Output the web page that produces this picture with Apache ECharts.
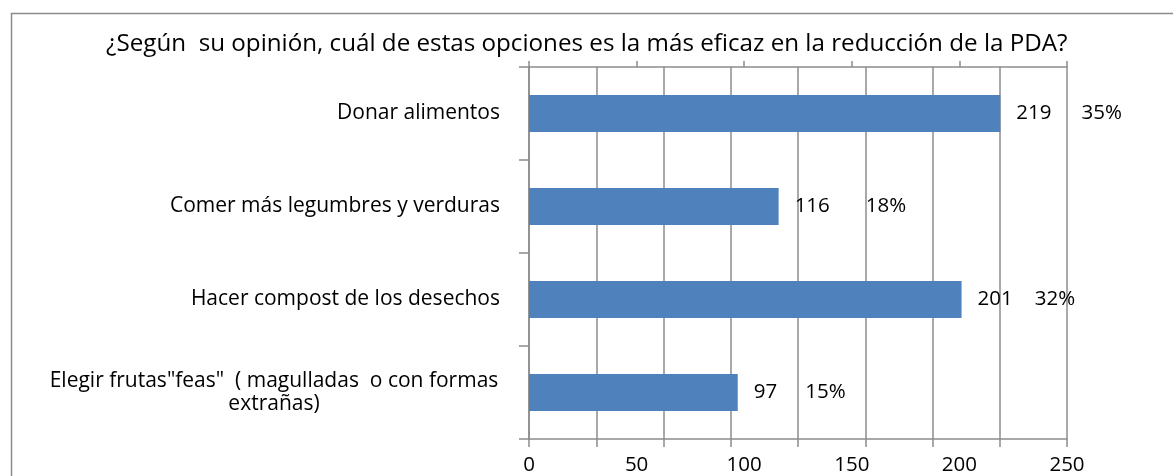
<!DOCTYPE html>
<html>
<head>
<meta charset="utf-8">
<script src="https://cdn.jsdelivr.net/npm/echarts@6/dist/echarts.min.js"></script>
<style>
  html, body { margin: 0; padding: 0; background: #fff; }
  #chart { width: 1173px; height: 476px; }
</style>
</head>
<body>
<div id="chart"></div>
<script>
// --- data ---
const categories = [
    'Donar alimentos',
    'Comer más legumbres y verduras',
    'Hacer compost de los desechos',
    'Elegir frutas"feas"  ( magulladas  o con formas\nextrañas)'
];
const counts = [219, 116, 201, 97];
const percents = ['35%', '18%', '32%', '15%'];
const axisTicks = [0, 50, 100, 150, 200, 250];

// gap between the count and the percent label (the source placed these by hand)
const pctGap = [30, 36, 22, 28];

const FONT = '"Open Sans"';
const GRAY = '#8c8c8c';
const BLUE = '#4f81bd';

const chart = echarts.init(document.getElementById('chart'), null, { renderer: 'canvas' });

chart.setOption({
    animation: false,
    backgroundColor: '#fff',
    textStyle: { fontFamily: FONT, color: '#000' },
    graphic: [{
        type: 'rect',
        shape: { x: 11.5, y: 13.5, width: 1200, height: 500 },
        style: { fill: 'none', stroke: GRAY, lineWidth: 1.5 },
        silent: true
    }],
    title: {
        text: '¿Según  su opinión, cuál de estas opciones es la más eficaz en la reducción de la PDA?',
        left: 106,
        top: 32,
        padding: 0,
        textStyle: { fontFamily: FONT, fontSize: 24.2, fontWeight: 'normal', color: '#000' }
    },
    grid: { left: 529, right: 106, top: 67, bottom: 37, containLabel: false },
    xAxis: [{
        type: 'value',
        position: 'bottom',
        min: axisTicks[0],
        max: axisTicks[axisTicks.length - 1],
        interval: 31.25,
        axisLine: { show: true, lineStyle: { color: GRAY, width: 1.5 } },
        axisTick: { show: true, length: 8, lineStyle: { color: GRAY, width: 1.5 } },
        axisLabel: { show: false },
        splitLine: { show: true, lineStyle: { color: GRAY, width: 1.5 } }
    }, {
        type: 'value',
        position: 'top',
        min: axisTicks[0],
        max: axisTicks[axisTicks.length - 1],
        interval: 50,
        axisLine: { show: true, lineStyle: { color: GRAY, width: 1.5 } },
        axisTick: { show: true, length: 6, lineStyle: { color: GRAY, width: 1.5 } },
        axisLabel: {
            show: true,
            inside: true,
            margin: 388,
            verticalAlign: 'top',
            fontSize: 20.5,
            color: '#000',
            fontFamily: FONT,
            customValues: axisTicks
        },
        splitLine: { show: false }
    }],
    yAxis: {
        type: 'category',
        inverse: true,
        data: categories,
        axisLine: { show: true, lineStyle: { color: GRAY, width: 1.5 } },
        axisTick: { show: true, length: 10, lineStyle: { color: GRAY, width: 1.5 } },
        axisLabel: {
            margin: 29,
            fontSize: 21,
            fontFamily: FONT,
            color: '#000',
            lineHeight: 23,
            formatter: function (v) {
                return v.indexOf('\n') >= 0 ? '{c|' + v + '}' : v;
            },
            rich: {
                c: { width: 452, align: 'center', fontSize: 21, lineHeight: 23, fontFamily: FONT, color: '#000' }
            }
        },
        splitLine: { show: false }
    },
    series: [{
        type: 'bar',
        xAxisIndex: 0,
        barWidth: '40%',
        itemStyle: { color: BLUE },
        data: counts.map(function (v, i) {
            return {
                value: v,
                label: {
                    rich: { p: { padding: [0, 0, 0, pctGap[i]], fontSize: 20.5, fontFamily: FONT, color: '#000' } }
                }
            };
        }),
        label: {
            show: true,
            position: 'right',
            distance: 16,
            fontSize: 20.5,
            fontFamily: FONT,
            color: '#000',
            formatter: function (p) {
                return '{v|' + p.value + '}{p|' + percents[p.dataIndex] + '}';
            },
            rich: {
                v: { fontSize: 20.5, fontFamily: FONT, color: '#000' },
                p: { fontSize: 20.5, fontFamily: FONT, color: '#000' }
            }
        }
    }]
});
</script>
</body>
</html>
